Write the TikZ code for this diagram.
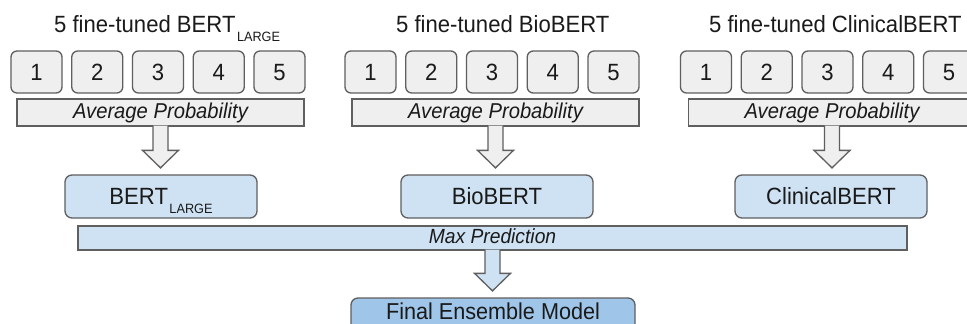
\documentclass[tikz,border=0pt]{standalone}
\usepackage{fontspec}
\setmainfont{Liberation Sans}[FakeStretch=0.94]
\usetikzlibrary{calc}
\definecolor{boxgray}{HTML}{EFEFEF}
\definecolor{edgegray}{HTML}{5F5F5F}
\definecolor{lblue}{HTML}{CFE2F3}
\definecolor{mblue}{HTML}{9FC5E8}
\definecolor{ink}{HTML}{1A1A1A}
\tikzset{
  base/.style={draw=edgegray, line width=1.3pt, inner sep=0pt, text=ink},
  numbox/.style={base, fill=boxgray, rounded corners=6pt, minimum width=51pt, minimum height=42pt,
    font=\fontsize{23.5}{24}\selectfont, text height=16.8pt, text depth=0pt},
  avgbar/.style={base, fill=boxgray, minimum width=287pt, minimum height=27pt,
    font=\fontsize{21.5}{22}\selectfont\itshape, text height=15.5pt, text depth=3pt},
  modelbox/.style={base, fill=lblue, rounded corners=7pt, minimum width=192pt, minimum height=43pt,
    font=\fontsize{23.5}{24}\selectfont, text height=16.8pt, text depth=0pt},
  maxbar/.style={base, fill=lblue, minimum width=829pt, minimum height=24pt,
    font=\fontsize{20.5}{21}\selectfont\itshape, text height=14pt, text depth=4pt},
  finalbox/.style={base, fill=mblue, rounded corners=7pt, minimum width=284pt, minimum height=35pt,
    font=\fontsize{23}{24}\selectfont, text height=16.5pt, text depth=8pt},
  title/.style={inner sep=0pt, text=ink, font=\fontsize{23.5}{24}\selectfont},
  blockarr/.style={draw=edgegray, line width=1.3pt, line join=miter},
}
\newcommand\blockarrow[3]{%
  \path[blockarr, fill=#3] let \p1=(#1.south), \p2=(#2.north) in
    (\x1-7.5pt,\y1+1pt) -- (\x1-7.5pt,\y2+24pt) -- (\x1-18pt,\y2+24pt) -- (\x1,\y2+6.5pt)
    -- (\x1+18pt,\y2+24pt) -- (\x1+7.5pt,\y2+24pt) -- (\x1+7.5pt,\y1+1pt);}
\newcommand\lgsub{\kern1.5pt\raisebox{-9pt}{\fontsize{13.5}{14}\selectfont LARGE}}
\begin{document}
\begin{tikzpicture}[x=1pt,y=-1pt]
\useasboundingbox[fill=white] (0,0) rectangle (967,324);
% titles
\node[title, anchor=base west] (t1) at (54,32) {5 fine-tuned BERT\lgsub};
\node[title, anchor=base west] (t2) at (396,32) {5 fine-tuned BioBERT};
\node[title, anchor=base west] (t3) at (709,32) {5 fine-tuned ClinicalBERT};
% fine-tuned model boxes
\foreach \g/\x in {1/36.5, 2/370.5, 3/706} {
  \foreach \i in {1,...,5} {
    \node[numbox] (n\g\i) at ({\x+(\i-1)*60.75},72) {\i};
  }
}
% average bars
\node[avgbar] (avg1) at (160.5,112.5) {Average Probability};
\node[avgbar] (avg2) at (495.5,112.5) {Average Probability};
\node[avgbar] (avg3) at (832,112.5) {Average Probability};
% model boxes
\node[modelbox] (m1) at (161,196.5) {BERT\lgsub};
\node[modelbox] (m2) at (497,196.5) {BioBERT};
\node[modelbox] (m3) at (831,196.5) {ClinicalBERT};
% max prediction
\node[maxbar] (mx) at (492.5,238) {Max Prediction};
% final
\node[finalbox] (fin) at (493,315.5) {Final Ensemble Model};
% arrows
\blockarrow{avg1}{m1}{boxgray}
\blockarrow{avg2}{m2}{boxgray}
\blockarrow{avg3}{m3}{boxgray}
\blockarrow{mx}{fin}{lblue}
\end{tikzpicture}
\end{document}
